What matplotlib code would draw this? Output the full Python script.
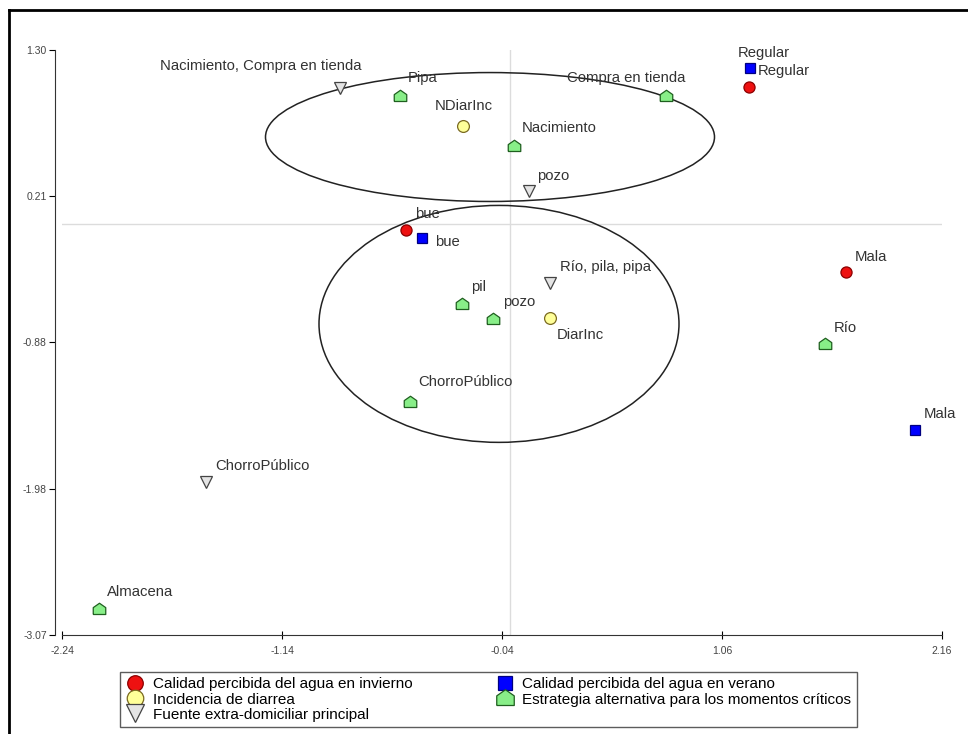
import numpy as np
import matplotlib
matplotlib.use("Agg")
import matplotlib.pyplot as plt
from matplotlib.patches import Ellipse
from matplotlib.lines import Line2D

plt.rcParams['font.family'] = ['Liberation Sans', 'DejaVu Sans']

# Calidad percibida del agua en invierno
winter_labels = ['Regular', 'bue', 'Mala']
winter_x = [1.195, -0.52, 1.68]
winter_y = [1.024, -0.044, -0.358]

# Calidad percibida del agua en verano
summer_labels = ['Regular', 'bue', 'Mala']
summer_x = [1.20, -0.44, 2.025]
summer_y = [1.166, -0.104, -1.538]

# Incidencia de diarrea
diarrhea_labels = ['NDiarInc', 'DiarInc']
diarrhea_x = [-0.235, 0.20]
diarrhea_y = [0.732, -0.70]

# Fuente extra-domiciliar principal
source_labels = ['Nacimiento, Compra en tienda', 'pozo', 'Río, pila, pipa', 'ChorroPúblico']
source_x = [-0.85, 0.095, 0.20, -1.52]
source_y = [1.016, 0.247, -0.44, -1.926]

# Estrategia alternativa para los momentos críticos
strategy_labels = ['Pipa', 'Compra en tienda', 'Nacimiento', 'pil', 'pozo',
                   'ChorroPúblico', 'Río', 'Almacena']
strategy_x = [-0.55, 0.78, 0.02, -0.24, -0.085, -0.50, 1.575, -2.055]
strategy_y = [0.956, 0.956, 0.583, -0.597, -0.709, -1.329, -0.896, -2.875]

x_ticks = [-2.24, -1.14, -0.04, 1.06, 2.16]
y_ticks = [-3.07, -1.98, -0.88, 0.21, 1.30]

# grouping ellipses: (center x, center y, width, height)
groups = [(-0.10, 0.65, 2.245, 0.963), (-0.055, -0.746, 1.80, 1.77)]

# label offsets in pixels (dx, dy, ha)
winter_off = [(9, 16, 'left'), (9, 16, 'left'), (9, 15, 'left')]
summer_off = [(-12, 15, 'left'), (13, -4, 'left'), (9, 16, 'left')]
diarrhea_off = [(-28, 20, 'left'), (7, -17, 'left')]
source_off = [(22, 22, 'right'), (8, 15, 'left'), (10, 16, 'left'), (9, 16, 'left')]
strategy_off = [(8, 18, 'left'), (19, 18, 'right'), (8, 18, 'left'), (9, 17, 'left'),
                (10, 17, 'left'), (8, 20, 'left'), (9, 16, 'left'), (8, 17, 'left')]

house = [(-1, -0.8), (1, -0.8), (1, 0.3), (0, 1), (-1, 0.3), (-1, -0.8)]

series = [
    (winter_x, winter_y, winter_labels, winter_off,
     dict(marker='o', ms=8, mfc='#ee1111', mec='#8b0000'),
     'Calidad percibida del agua en invierno'),
    (diarrhea_x, diarrhea_y, diarrhea_labels, diarrhea_off,
     dict(marker='o', ms=8.5, mfc='#ffff99', mec='#7a6a20'),
     'Incidencia de diarrea'),
    (source_x, source_y, source_labels, source_off,
     dict(marker='v', ms=9, mfc='#e4e4e4', mec='#444444'),
     'Fuente extra-domiciliar principal'),
    (summer_x, summer_y, summer_labels, summer_off,
     dict(marker='s', ms=7.5, mfc='#0000ff', mec='#000080'),
     'Calidad percibida del agua en verano'),
    (strategy_x, strategy_y, strategy_labels, strategy_off,
     dict(marker=house, ms=9, mfc='#88ee88', mec='#1f5f1f'),
     'Estrategia alternativa para los momentos críticos'),
]

fig = plt.figure(figsize=(9.68, 7.34), dpi=100)
ax = fig.add_axes([62 / 968, 1 - 635 / 734, 880 / 968, 585 / 734])

ax.set_xlim(-2.24, 2.16)
ax.set_ylim(-3.07, 1.30)

ax.axhline(0, color='#dcdcdc', lw=1, zorder=0)
ax.axvline(0, color='#dcdcdc', lw=1, zorder=0)

for cx, cy, w, h in groups:
    ax.add_patch(Ellipse((cx, cy), w, h, fill=False, ec='#222222', lw=1.1, zorder=1))

handles = []
for xs, ys, labels, offs, style, name in series:
    ax.plot(xs, ys, ls='none', mew=0.9, zorder=3, clip_on=False, **style)
    for x, y, lab, (dx, dy, ha) in zip(xs, ys, labels, offs):
        ax.annotate(lab, (x, y), xytext=(dx, dy), textcoords='offset pixels',
                    ha=ha, va='center', fontsize=10.7, color='#333333', zorder=4)
    handles.append(Line2D([], [], ls='none', mew=0.9, label=name,
                          **{**style, 'ms': style['ms'] * 1.4}))

for side in ['top', 'right']:
    ax.spines[side].set_visible(False)
ax.spines['left'].set_position(('outward', 5))
ax.spines['left'].set_color('#333333')
ax.spines['bottom'].set_color('#333333')

ax.set_xticks(x_ticks)
ax.set_yticks(y_ticks)
ax.set_xticklabels([f'{v:.2f}' for v in x_ticks])
ax.set_yticklabels([f'{v:.2f}' for v in y_ticks])
ax.tick_params(axis='x', direction='inout', length=6, labelsize=7.5,
               labelcolor='#444444', pad=5)
ax.tick_params(axis='y', direction='out', length=4, labelsize=7.5,
               labelcolor='#444444', pad=2)

fig.legend(handles=handles, ncol=2, loc='upper left',
           bbox_to_anchor=(120 / 968, 1 - 672 / 734),
           fontsize=11, frameon=True, fancybox=False, edgecolor='#333333',
           borderpad=0.35, labelspacing=0.08, handletextpad=0.5,
           handlelength=1.3, columnspacing=5.4, borderaxespad=0)

# outer frame along top and left edges
fig.add_artist(Line2D([9 / 968, 1.0], [1 - 10 / 734, 1 - 10 / 734],
                      color='black', lw=2, transform=fig.transFigure))
fig.add_artist(Line2D([9 / 968, 9 / 968], [0, 1 - 10 / 734],
                      color='black', lw=2, transform=fig.transFigure))

fig.savefig('out.png', dpi=100)
